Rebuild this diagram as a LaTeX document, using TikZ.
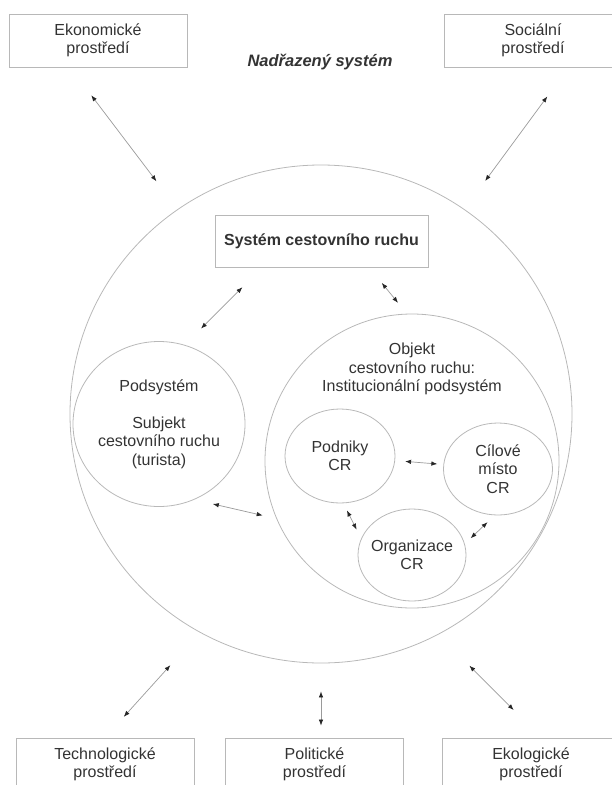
\documentclass[tikz,border=0pt]{standalone}
\usepackage{fontspec}
\setmainfont{Liberation Sans}
\usepackage{tikz}
\usepackage{xcolor}
\usetikzlibrary{arrows.meta}
\usetikzlibrary{shapes.geometric}

\definecolor{linegray}{HTML}{B8B8B8}
\definecolor{arrowgray}{HTML}{9A9A9A}
\definecolor{textgray}{HTML}{333333}

\tikzset{
  envbox/.style={draw=linegray, line width=0.8pt, minimum width=178, minimum height=53,
    inner sep=0pt, align=center, text=textgray, font=\fontsize{16}{18.5}\selectfont},
  bubble/.style={draw=linegray, line width=0.8pt, ellipse, inner sep=-5pt,
    align=center, text=textgray, font=\fontsize{16}{18.5}\selectfont},
  txt/.style={text=textgray, align=center, font=\fontsize{16}{18.5}\selectfont},
  tip/.style={Latex[length=6pt,width=4.5pt,color=black!85]},
  link/.style={draw=arrowgray, line width=0.7pt, {Latex[length=6pt,width=4.5pt,color=black!85]}-{Latex[length=6pt,width=4.5pt,color=black!85]}}
}

\begin{document}
\begin{tikzpicture}[x=1pt,y=-1pt]
\useasboundingbox (0,0) rectangle (611,785);

\node[envbox] (ekon) at (98,40.5) {Ekonomické\\prostředí};
\node[envbox] (soc) at (533,40.5) {Sociální\\prostředí};
\node[txt, font=\bfseries\itshape\fontsize{16.5}{18}\selectfont] (nadr) at (320,62) {Nadřazený systém};

\node[bubble, minimum width=502, minimum height=498] (sys) at (321,414) {};
\node[envbox, minimum width=213, minimum height=52, font=\bfseries\fontsize{16}{18}\selectfont] (csr) at (321.5,241) {Systém cestovního ruchu};

\node[bubble, minimum width=172, minimum height=165] (pods) at (159,424) {Podsystém\\[18.5pt]Subjekt\\cestovního ruchu\\(turista)};
\node[bubble, minimum width=294, minimum height=294] (obj) at (412,461) {};
\node[txt] (objlbl) at (412,369) {Objekt\\cestovního ruchu:\\Institucionální podsystém};
\node[bubble, minimum width=110, minimum height=94] (podniky) at (340,456) {Podniky\\CR};
\node[bubble, minimum width=109, minimum height=92] (cil) at (498,469) {Cílové\\místo\\CR};
\node[bubble, minimum width=108, minimum height=92] (org) at (412,555) {Organizace\\CR};

\node[envbox] (tech) at (105,764.5) {Technologické\\prostředí};
\node[envbox] (pol) at (314.5,764.5) {Politické\\prostředí};
\node[envbox] (eko) at (531,764.5) {Ekologické\\prostředí};

\draw[link, shorten <=35pt, shorten >=35pt] (ekon.224) -- (sys.125);
\draw[link, shorten <=36pt, shorten >=35pt] (soc.323) -- (sys.55);
\draw[link, shorten <=28pt, shorten >=44pt] (tech.north) -- (sys.241);
\draw[link, shorten <=28pt, shorten >=12pt] (sys.south) -- (sys.south |- pol.north);
\draw[link, shorten <=39pt, shorten >=44pt] (eko.69) -- (sys.298);

\draw[link, shorten <=28pt, shorten >=23pt] (csr.204) -- (pods.72);
\draw[link, shorten <=20pt, shorten >=14pt] (csr.331) -- (obj.92);
\draw[link, shorten <=19pt, shorten >=14pt] (pods.295) -- (obj.203);

\draw[link, shorten <=10pt, shorten >=6pt] (podniky) -- (cil);
\draw[link, shorten <=8pt, shorten >=10pt] (podniky.274) -- (org.162);
\draw[link, shorten <=8pt, shorten >=10pt] (org.12) -- (cil.266);
\end{tikzpicture}
\end{document}
